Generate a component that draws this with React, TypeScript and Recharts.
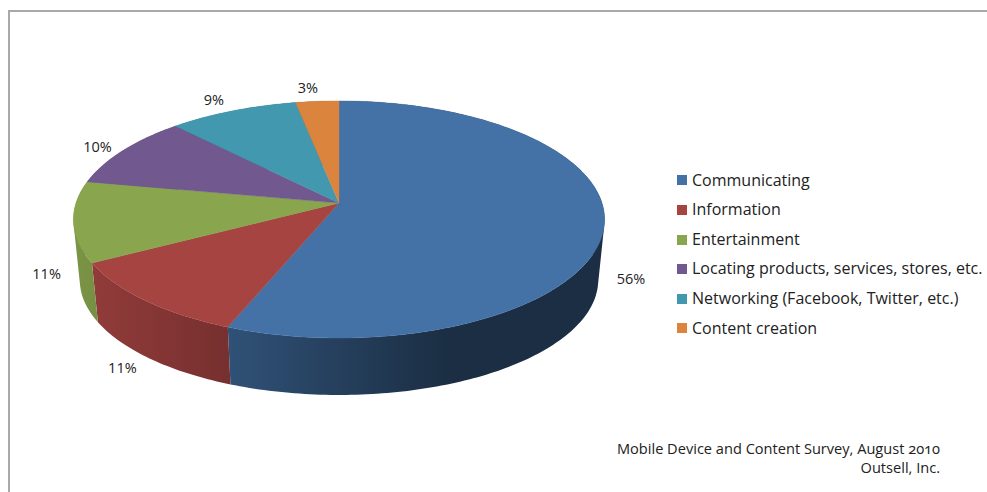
import React from "react";
import { PieChart, Pie, Legend } from "recharts";

const categories = [
  "Communicating",
  "Information",
  "Entertainment",
  "Locating products, services, stores, etc.",
  "Networking (Facebook, Twitter, etc.)",
  "Content creation",
];
const shares = [56, 11, 11, 10, 9, 3];
const sliceColors = ["#4472a7", "#a64442", "#89a54e", "#71588f", "#4198af", "#db843e"];
const sourceLines = ["Mobile Device and Content Survey, August 2010", "Outsell, Inc."];

const FONT = "'Open Sans', sans-serif";
const RAD = Math.PI / 180;

// Disc projection: foreshortening of the plane and the perspective term along the depth axis.
const TILT = 0.442;
const PERSPECTIVE = -0.139;
// The underside of the disc sits lower and slightly smaller than the top face.
const DROP = 61;
const UNDER_X = 0.976;
const UNDER_Y = 0.97;

// Brightness of the rim by horizontal position: [x, factor].
const rimLight: [number, number][] = [
  [70, 0.9],
  [230, 0.71],
  [340, 0.55],
  [450, 0.4],
  [610, 0.4],
];

const rows = categories.map((name, i) => ({ name, value: shares[i], fill: sliceColors[i] }));

type Pt = [number, number];

function project(cx: number, cy: number, r: number, angle: number, under = false): Pt {
  const X = Math.cos(angle * RAD);
  const Y = -Math.sin(angle * RAD);
  const d = 1 + PERSPECTIVE * Y;
  const px = (r * X) / d;
  const py = (r * TILT * Y) / d;
  return under ? [cx + px * UNDER_X, cy + DROP + py * UNDER_Y] : [cx + px, cy + py];
}

function arc(cx: number, cy: number, r: number, a0: number, a1: number, under = false): Pt[] {
  const n = Math.max(2, Math.ceil(Math.abs(a1 - a0)));
  const pts: Pt[] = [];
  for (let i = 0; i <= n; i++) pts.push(project(cx, cy, r, a0 + ((a1 - a0) * i) / n, under));
  return pts;
}

const toPath = (pts: Pt[]) =>
  "M" + pts.map((p) => `${p[0].toFixed(2)},${p[1].toFixed(2)}`).join("L") + "Z";

function signedArea(pts: Pt[]) {
  let s = 0;
  pts.forEach((p, i) => {
    const q = pts[(i + 1) % pts.length];
    s += p[0] * q[1] - q[0] * p[1];
  });
  return s;
}

function scaleHex(hex: string, f: number) {
  const n = parseInt(hex.slice(1), 16);
  const c = [(n >> 16) & 255, (n >> 8) & 255, n & 255].map((v) => Math.round(v * f));
  return `rgb(${c[0]},${c[1]},${c[2]})`;
}

function TopFace(p: any) {
  const pts = [[p.cx, p.cy] as Pt, ...arc(p.cx, p.cy, p.outerRadius, p.startAngle, p.endAngle)];
  return <path d={toPath(pts)} fill={p.fill} stroke={p.fill} strokeWidth={0.4} />;
}

function RimFace(p: any) {
  const id = `rim-${p.name.length}-${p.value}`;
  const upper = arc(p.cx, p.cy, p.outerRadius, p.startAngle, p.endAngle);
  const lower = arc(p.cx, p.cy, p.outerRadius, p.startAngle, p.endAngle, true);
  // One consistently wound quad per step, so the sweep of the wall fills up to the silhouette.
  const quads = upper.slice(0, -1).map((u, i) => {
    const q: Pt[] = [u, upper[i + 1], lower[i + 1], lower[i]];
    return toPath(signedArea(q) < 0 ? q.reverse() : q);
  });
  const x0 = rimLight[0][0];
  const x1 = rimLight[rimLight.length - 1][0];
  return (
    <g>
      <defs>
        <linearGradient id={id} gradientUnits="userSpaceOnUse" x1={x0} x2={x1} y1={0} y2={0}>
          {rimLight.map(([x, f]) => (
            <stop key={x} offset={(x - x0) / (x1 - x0)} stopColor={scaleHex(p.fill, f)} />
          ))}
        </linearGradient>
      </defs>
      <path d={quads.join("")} fill={`url(#${id})`} stroke="none" />
    </g>
  );
}

function SliceLabel(p: any) {
  const X = Math.cos(p.midAngle * RAD);
  const Y = -Math.sin(p.midAngle * RAD);
  const [ex, ey] = project(p.cx, p.cy, p.outerRadius, p.midAngle);
  const dx = 27 * Math.sign(X) * Math.pow(Math.abs(X), 0.45);
  const dy = Y > 0 ? 48 + 25 * Y : -1 - 13 * Y * Y;
  return (
    <text
      x={ex + dx}
      y={ey + dy}
      textAnchor="middle"
      dominantBaseline="central"
      fontFamily={FONT}
      fontSize={14.5}
      fill="#222"
    >
      {p.value}%
    </text>
  );
}

function LegendList({ payload }: any) {
  const seen = new Set<string>();
  const items = (payload ?? []).filter((item: any) => {
    if (seen.has(item.value)) return false;
    seen.add(item.value);
    return true;
  });
  return (
    <div style={{ fontFamily: FONT, fontSize: 16, color: "#222" }}>
      {items.map((item: any) => (
        <div
          key={item.value}
          style={{ height: 29.6, lineHeight: "29.6px", whiteSpace: "nowrap", display: "flex", alignItems: "center" }}
        >
          <span style={{ width: 10, height: 10, background: item.color, marginRight: 5, flex: "none" }} />
          {item.value}
        </div>
      ))}
    </div>
  );
}

export default function App() {
  return (
    <div style={{ position: "absolute", left: 0, top: 0, width: 987, height: 492, background: "#fff", overflow: "hidden" }}>
      <div
        style={{
          position: "absolute",
          left: 8,
          top: 10,
          right: 0,
          bottom: 0,
          borderLeft: "2px solid #a9a9a9",
          borderTop: "2px solid #a9a9a9",
        }}
      />
      <PieChart width={987} height={492} margin={{ top: 0, right: 0, bottom: 0, left: 0 }} style={{ position: "absolute", left: 0, top: 0 }}>
        <Pie
          data={rows}
          dataKey="value"
          nameKey="name"
          cx={339}
          cy={203}
          outerRadius={263}
          startAngle={90}
          endAngle={-270}
          stroke="none"
          legendType="none"
          isAnimationActive={false}
          shape={RimFace}
        />
        <Pie
          data={rows}
          dataKey="value"
          nameKey="name"
          cx={339}
          cy={203}
          outerRadius={263}
          startAngle={90}
          endAngle={-270}
          stroke="none"
          isAnimationActive={false}
          shape={TopFace}
          label={SliceLabel}
          labelLine={false}
        />
        <Legend
          content={LegendList}
          itemSorter={null}
          layout="vertical"
          wrapperStyle={{ left: 677, top: 165.7, width: 310, bottom: "auto", right: "auto" }}
        />
      </PieChart>
      <div
        style={{
          position: "absolute",
          right: 47,
          top: 438.5,
          textAlign: "right",
          fontFamily: FONT,
          fontSize: 14.6,
          lineHeight: "19px",
          color: "#222",
          whiteSpace: "nowrap",
          fontFeatureSettings: "'onum'",
        }}
      >
        {sourceLines.map((line) => (
          <div key={line}>{line}</div>
        ))}
      </div>
    </div>
  );
}
